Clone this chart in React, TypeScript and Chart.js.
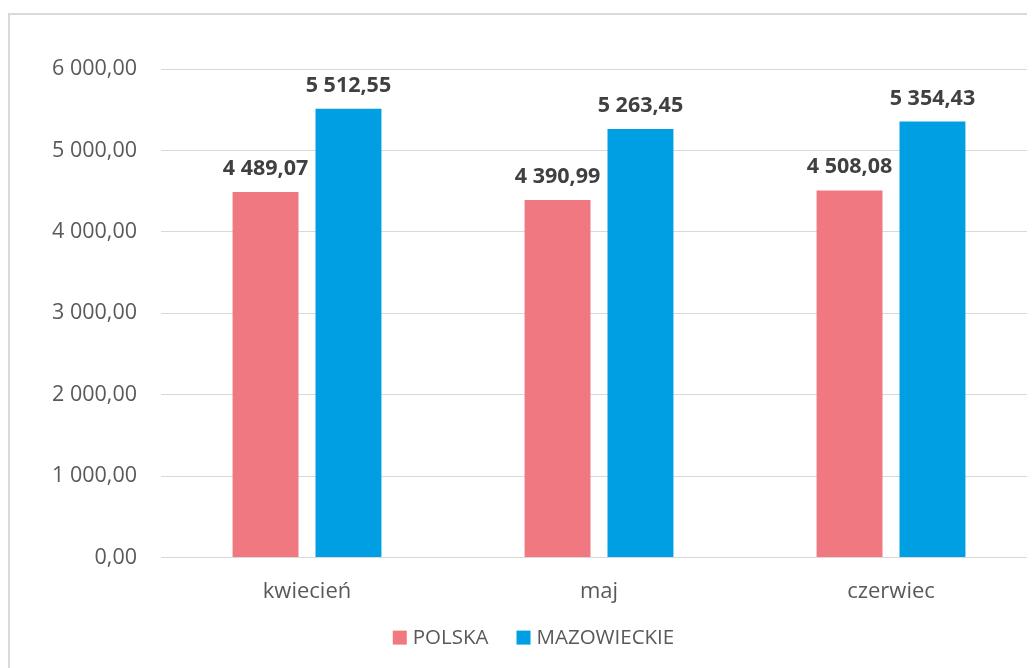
import React, { useEffect, useRef } from "react";
import { Chart, registerables } from "chart.js";

Chart.register(...registerables);

const categories = ["kwiecień", "maj", "czerwiec"];
const seriesNames = ["POLSKA", "MAZOWIECKIE"];
const polska = [4489.07, 4390.99, 4508.08];
const mazowieckie = [5512.55, 5263.45, 5354.43];
const yTicks = [0, 1000, 2000, 3000, 4000, 5000, 6000];
const colors = ["#F07880", "#009FE3"];

function fmt(v: number): string {
  const [i, d] = v.toFixed(2).split(".");
  return i.replace(/\B(?=(\d{3})+(?!\d))/g, " ") + "," + d;
}

const FONT = "'Open Sans', 'DejaVu Sans', sans-serif";

const labelPlugin = {
  id: "valueLabels",
  afterDatasetsDraw(chart: any) {
    const ctx = chart.ctx;
    ctx.save();
    ctx.font = "bold 21.5px " + FONT;
    ctx.fillStyle = "#404040";
    ctx.textAlign = "center";
    ctx.textBaseline = "alphabetic";
    chart.data.datasets.forEach((ds: any, di: number) => {
      const meta = chart.getDatasetMeta(di);
      meta.data.forEach((el: any, i: number) => {
        ctx.fillText(fmt(ds.data[i]), el.x, el.y - 17);
      });
    });
    ctx.restore();
  },
};

const legendPlugin = {
  id: "bottomLegend",
  afterDraw(chart: any) {
    const ctx = chart.ctx;
    const box = 14;
    const gapText = 6;
    const gapItem = 28;
    ctx.save();
    ctx.font = "20.5px " + FONT;
    const items = chart.data.datasets.map((ds: any) => ({
      text: ds.label,
      color: ds.backgroundColor,
      w: ctx.measureText(ds.label).width,
    }));
    const total =
      items.reduce((s: number, it: any) => s + box + gapText + it.w, 0) + gapItem * (items.length - 1);
    let x = chart.width / 2 - total / 2;
    const y = chart.chartArea.bottom + 80;
    ctx.textBaseline = "middle";
    ctx.textAlign = "left";
    items.forEach((it: any) => {
      ctx.fillStyle = it.color;
      ctx.fillRect(x, y - box / 2, box, box);
      x += box + gapText;
      ctx.fillStyle = "#595959";
      ctx.fillText(it.text, x, y + 1);
      x += it.w + gapItem;
    });
    ctx.restore();
  },
};

export default function App() {
  const ref = useRef<HTMLCanvasElement>(null);
  useEffect(() => {
    if (!ref.current) return;
    const chart = new Chart(ref.current, {
      type: "bar",
      data: {
        labels: categories,
        datasets: [
          { label: seriesNames[0], data: polska, backgroundColor: colors[0], categoryPercentage: 0.568, barPercentage: 0.795 },
          { label: seriesNames[1], data: mazowieckie, backgroundColor: colors[1], categoryPercentage: 0.568, barPercentage: 0.795 },
        ],
      },
      options: {
        animation: false,
        responsive: false,
        maintainAspectRatio: false,
        layout: { padding: { top: 54, right: 20, left: 0, bottom: 42 } },
        plugins: {
          tooltip: { enabled: false },
          legend: { display: false },
        },
        scales: {
          x: {
            grid: { display: false, drawTicks: false },
            border: { display: true, color: "#d9d9d9", width: 1 },
            ticks: { color: "#595959", font: { family: FONT, size: 22 }, padding: 21 },
          },
          y: {
            min: 0,
            max: 6000,
            afterBuildTicks(axis: any) {
              axis.ticks = yTicks.map((v) => ({ value: v }));
            },
            afterFit(axis: any) {
              axis.width = 151;
            },
            grid: { color: "#d9d9d9", drawTicks: false },
            border: { display: false },
            ticks: {
              color: "#595959",
              font: { family: FONT, size: 21.5 },
              padding: 24,
              callback: (v: any) => fmt(Number(v)),
            },
          },
        },
      },
      plugins: [labelPlugin, legendPlugin],
    });
    return () => chart.destroy();
  }, []);
  return (
    <div style={{ width: 1027, height: 660, overflow: "hidden" }}>
      <div
        style={{
          marginTop: 5,
          width: 1047,
          height: 670,
          border: "2px solid #d9d9d9",
          background: "#fff",
        }}
      >
        <canvas ref={ref} width={1047} height={653} style={{ display: "block" }} />
      </div>
    </div>
  );
}
